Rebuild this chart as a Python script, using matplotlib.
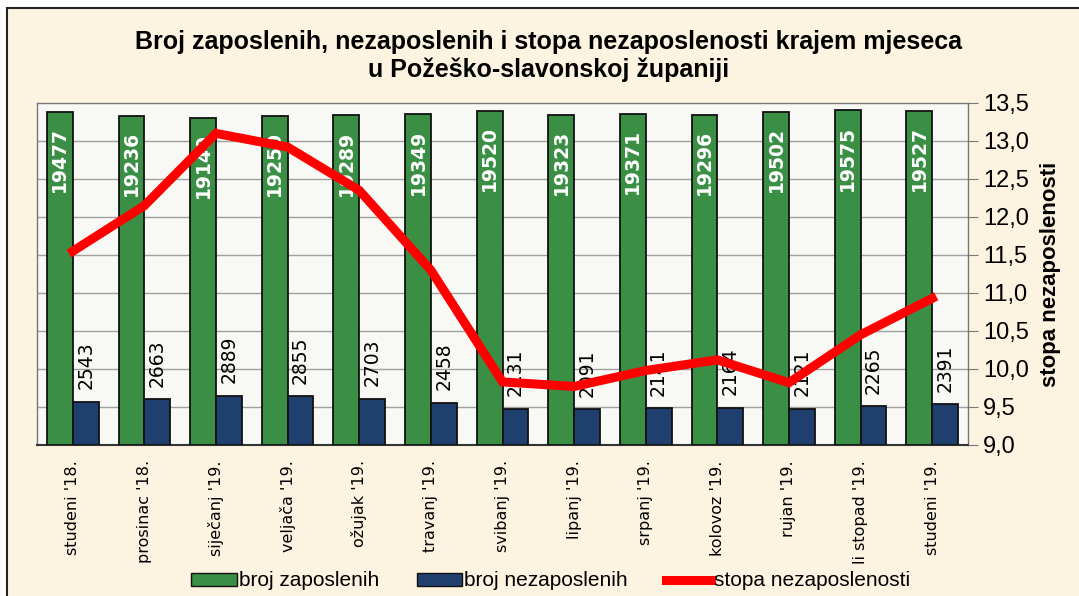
import numpy as np
import matplotlib.pyplot as plt
from matplotlib.patches import Patch, Rectangle
from matplotlib.lines import Line2D

# data
months = ["studeni '18.", "prosinac '18.", "siječanj '19.", "veljača '19.", "ožujak '19.",
          "travanj '19.", "svibanj '19.", "lipanj '19.", "srpanj '19.", "kolovoz '19.",
          "rujan '19.", "li stopad '19.", "studeni '19."]
employed = [19477, 19236, 19140, 19250, 19289, 19349, 19520, 19323, 19371, 19296, 19502, 19575, 19527]
unemployed = [2543, 2663, 2889, 2855, 2703, 2458, 2131, 2091, 2141, 2164, 2121, 2265, 2391]
rate = [11.55, 12.15, 13.1, 12.92, 12.35, 11.3, 9.83, 9.77, 9.98, 10.12, 9.82, 10.45, 10.93]

green = '#3a8f45'
navy = '#1f3f6e'
fig_bg = '#fdf3e1'
plot_bg = '#f8f8f4'

fig = plt.figure(figsize=(10.79, 5.96), dpi=100, facecolor='white')
# beige panel with a dark frame, small white margin top/left like the screenshot
fig.patches.append(Rectangle((7 / 1079, -0.05), 1.1, 1 - 8 / 596 + 0.05, transform=fig.transFigure,
                             facecolor=fig_bg, edgecolor='#222222', linewidth=1.5, zorder=-2))

ax = fig.add_axes([37 / 1079, 1 - 445 / 596, (968 - 37) / 1079, (445 - 103) / 596])
ax.set_facecolor(plot_bg)
x = np.arange(len(months))
w = 0.36

ax.set_ylim(0, 20000)
ax.set_xlim(-0.5, len(months) - 0.5)

# horizontal gridlines matching the right axis ticks (drawn behind the bars)
ticks = np.arange(9.0, 13.51, 0.5)
for t in ticks[1:-1]:
    ax.axhline((t - 9.0) / 4.5 * 20000, color='#a0a0a0', linewidth=1, zorder=1)

ax.bar(x - w / 2, employed, w, color=green, edgecolor='#111111', linewidth=1.3, zorder=3)
ax.bar(x + w / 2, unemployed, w, color=navy, edgecolor='#111111', linewidth=1.3, zorder=3)
ax.set_yticks([])
ax.set_xticks(x)
ax.set_xticklabels(months, rotation=90, fontsize=11.5, family='DejaVu Sans')
ax.tick_params(axis='x', length=0, pad=11)
for s in ax.spines.values():
    s.set_color('#777777')
    s.set_linewidth(1)
ax.spines['bottom'].set_color('#333333')
ax.spines['bottom'].set_linewidth(1.5)

for xi, v in zip(x, employed):
    ax.annotate(str(v), (xi - w / 2, v), xytext=(0, -11), textcoords='offset points',
                rotation=90, ha='center', va='top', color='white', fontsize=13.5,
                fontweight='bold', family='DejaVu Sans', zorder=4)
for xi, v in zip(x, unemployed):
    ax.annotate(str(v), (xi + w / 2, v), xytext=(0, 9), textcoords='offset points',
                rotation=90, ha='center', va='bottom', color='black', fontsize=13.5,
                family='DejaVu Sans', zorder=4)

ax2 = ax.twinx()
ax2.plot(x, rate, color='#ff0000', linewidth=6.5, solid_joinstyle='miter', zorder=5)
ax2.set_ylim(9.0, 13.5)
ax2.set_yticks(ticks)
ax2.set_yticklabels([f"{t:.1f}".replace('.', ',') for t in ticks], fontsize=17,
                    family='Liberation Sans')
ax2.tick_params(axis='y', length=7, color='#777777', pad=4)
ax2.set_ylabel('stopa nezaposlenosti', fontsize=16, fontweight='bold', family='Liberation Sans',
               labelpad=8)
for s in ax2.spines.values():
    s.set_visible(False)

fig.text(0.508, 1 - 42 / 596, 'Broj zaposlenih, nezaposlenih i stopa nezaposlenosti krajem mjeseca',
         ha='center', va='center', fontsize=18, fontweight='bold', family='Liberation Sans')
fig.text(0.508, 1 - 70 / 596, 'u Požeško-slavonskoj županiji',
         ha='center', va='center', fontsize=18, fontweight='bold', family='Liberation Sans')

handles = [Patch(facecolor=green, edgecolor='#111111'),
           Patch(facecolor=navy, edgecolor='#111111'),
           Line2D([], [], color='#ff0000', linewidth=6.5)]
fig.legend(handles, ['broj zaposlenih', 'broj nezaposlenih', 'stopa nezaposlenosti'],
           loc='center', bbox_to_anchor=(0.51, 1 - 581 / 596), ncol=3, frameon=False,
           handlelength=2.2, handleheight=0.6, handletextpad=0.1, columnspacing=1.8,
           prop={'family': 'Liberation Sans', 'size': 15})

fig.savefig('out.png', dpi=100, facecolor=fig.get_facecolor())
